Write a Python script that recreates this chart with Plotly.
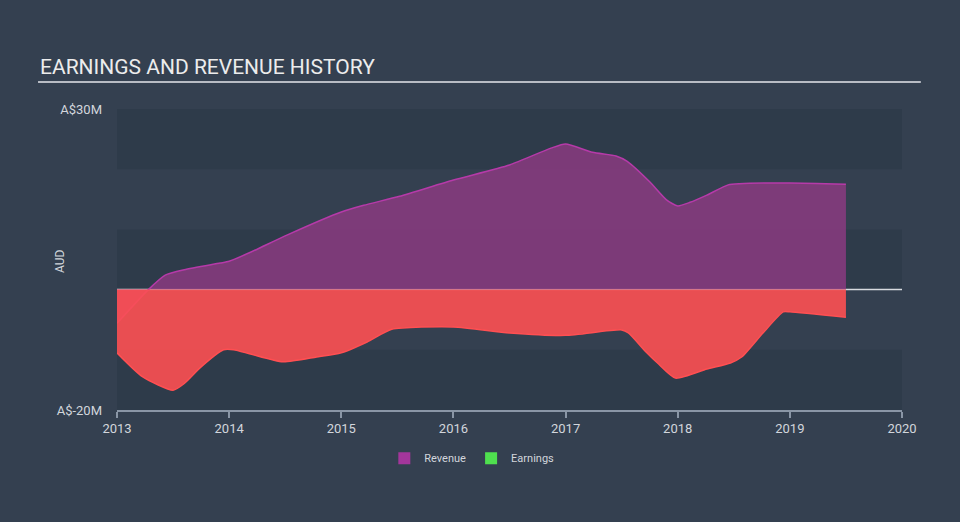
import plotly.graph_objects as go

# ---- data (A$ millions, decimal years) ----
rev_x = [2013.0, 2013.28, 2013.43, 2013.6, 2013.92, 2014.0, 2014.19, 2014.52, 2015.0, 2015.2,
         2015.52, 2016.0, 2016.5, 2016.87, 2017.0, 2017.24, 2017.45, 2017.55, 2017.75, 2017.9,
         2018.0, 2018.11, 2018.26, 2018.45, 2018.55, 2019.0, 2019.5]
rev_y = [-5.6, 0.0, 2.4, 3.3, 4.4, 4.7, 6.2, 9.1, 12.9, 14.0,
         15.5, 18.2, 20.7, 23.5, 24.2, 22.8, 22.2, 21.3, 17.9, 14.9,
         13.9, 14.5, 15.7, 17.4, 17.6, 17.7, 17.5]

earn_x = [2013.0, 2013.23, 2013.5, 2013.6, 2013.74, 2013.95, 2014.04, 2014.19, 2014.48, 2014.78,
          2015.0, 2015.23, 2015.45, 2016.0, 2016.5, 2017.0, 2017.5, 2017.56, 2017.72, 2017.82,
          2017.98, 2018.26, 2018.47, 2018.57, 2018.76, 2018.94, 2019.0, 2019.5]
earn_y = [-10.5, -14.5, -16.7, -15.6, -13.0, -10.0, -10.0, -10.7, -12.0, -11.2,
          -10.5, -8.7, -6.6, -6.2, -7.2, -7.6, -6.7, -7.2, -10.4, -12.2,
          -14.7, -13.2, -12.2, -11.2, -7.2, -3.7, -3.7, -4.6]

x_ticks = [2013, 2014, 2015, 2016, 2017, 2018, 2019, 2020]
y_ticks = [-20, 30]
y_ticktext = ["A$-20M", "A$30M"]
band_edges = [(-20, -10), (0, 10), (20, 30)]

BG = "#344050"
DARK_BAND = "#2e3b4a"
TXT = "#d2d6dc"
FONT = "Roboto"

fig = go.Figure()

fig.add_trace(go.Scatter(
    x=rev_x, y=rev_y, mode="lines", fill="tozeroy",
    line=dict(color="#b63aa9", width=1.5, shape="spline", smoothing=0.6),
    fillcolor="rgba(137,58,128,0.86)", showlegend=False, hoverinfo="skip"))

fig.add_trace(go.Scatter(
    x=earn_x, y=earn_y, mode="lines", fill="tozeroy",
    line=dict(color="#ff4f52", width=1.5, shape="spline", smoothing=0.6),
    fillcolor="rgba(253,80,82,0.9)", showlegend=False, hoverinfo="skip"))

# legend proxies
fig.add_trace(go.Scatter(x=[None], y=[None], mode="markers", name="Revenue",
                         marker=dict(symbol="square", size=14, color="#a3369b")))
fig.add_trace(go.Scatter(x=[None], y=[None], mode="markers", name="Earnings",
                         marker=dict(symbol="square", size=14, color="#4fe04f")))

shapes = []
for lo, hi in band_edges:
    shapes.append(dict(type="rect", xref="x", yref="y", x0=2013, x1=2020, y0=lo, y1=hi,
                       fillcolor=DARK_BAND, line=dict(width=0), layer="below"))
shapes.append(dict(type="line", xref="x", yref="y", x0=2013, x1=2020, y0=0, y1=0,
                   line=dict(color="#d8dbe0", width=1.5), layer="below"))
shapes.append(dict(type="line", xref="paper", yref="paper", x0=-0.1006, x1=1.024,
                   y0=1.0897, y1=1.0897, line=dict(color="#b8bcc4", width=2)))

fig.update_layout(
    width=960, height=522,
    paper_bgcolor=BG, plot_bgcolor=BG,
    margin=dict(l=117, r=58, t=109, b=112),
    font=dict(family=FONT, color=TXT, size=12),
    shapes=shapes,
    showlegend=True,
    legend=dict(orientation="h", x=0.452, xanchor="center", y=-0.16, yanchor="middle",
                font=dict(size=11, color=TXT), bgcolor="rgba(0,0,0,0)", itemsizing="constant"),
    annotations=[
        dict(text="EARNINGS AND REVENUE HISTORY", xref="paper", yref="paper",
             x=-0.1006, y=1.138, xanchor="left", yanchor="middle", showarrow=False,
             font=dict(size=21, color="#ececec", family=FONT)),
        dict(text="AUD", xref="paper", yref="paper", x=-0.0726, y=0.495,
             textangle=-90, showarrow=False, xanchor="center", yanchor="middle",
             font=dict(size=12, color=TXT, family=FONT)),
    ],
)

fig.update_xaxes(range=[2013, 2020], tickvals=x_ticks, ticktext=[str(v) for v in x_ticks],
                 showgrid=False, zeroline=False, showline=True, linecolor="#8a96a6",
                 linewidth=1.5, ticks="outside", ticklen=6, tickcolor="#8a96a6", tickwidth=1.5,
                 tickfont=dict(size=13, color=TXT))
fig.update_yaxes(range=[-20, 30], tickvals=y_ticks, ticktext=y_ticktext,
                 showgrid=False, zeroline=False, showline=False, ticks="",
                 ticklabelstandoff=14, tickfont=dict(size=13, color=TXT))

fig.write_html("out.html")
